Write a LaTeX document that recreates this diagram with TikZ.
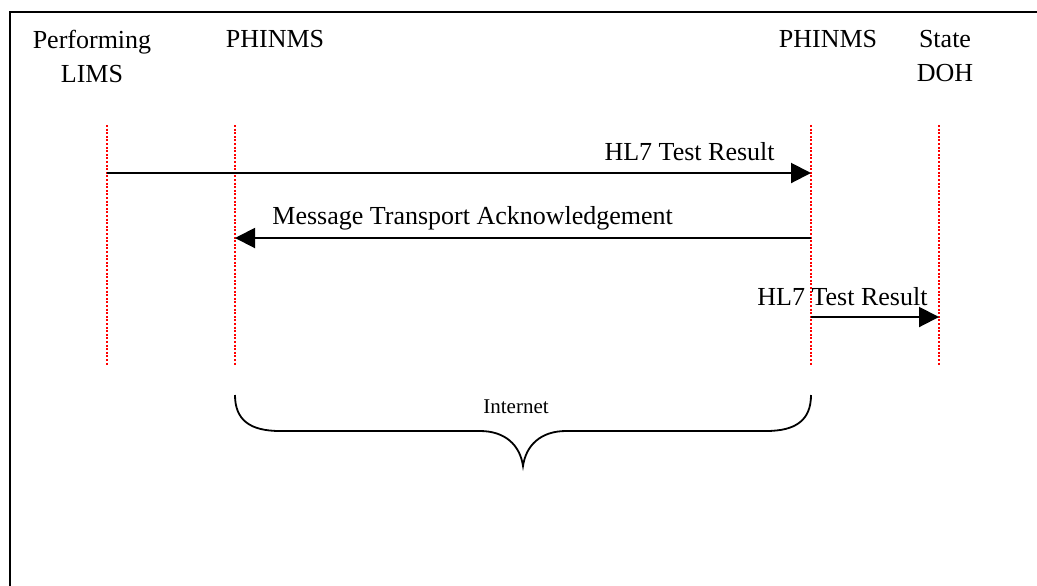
\documentclass[tikz,border=0pt]{standalone}
\usepackage{fontspec}
\setmainfont{Liberation Serif}
\usetikzlibrary{arrows.meta}
\tikzset{
  lifeline/.style={red, line width=0.6pt, dash pattern=on 1pt off 0.8pt},
  msg/.style={line width=1pt, -{Triangle[length=10pt,width=10pt]}},
  actor/.style={align=center, inner sep=0pt, font=\fontsize{13}{17}\selectfont},
  msglabel/.style={inner sep=0pt, font=\fontsize{13}{15}\selectfont},
}
\begin{document}
\begin{tikzpicture}[x=0.5pt,y=-0.5pt]
\useasboundingbox (0,0) rectangle (1037,585);
% frame
\draw[line width=1.4pt] (1040,12) -- (10,12) -- (10,590);
% actors
\node[actor, anchor=north] (lims) at (92,30) {Performing\\LIMS};
\node[actor, anchor=north] (phinA) at (275,30) {PHINMS};
\node[actor, anchor=north] (phinB) at (828,30) {PHINMS};
\node[actor, anchor=north] (doh) at (945,30) {State\\DOH};
% lifelines
\foreach \n/\x in {lims/107, phinA/235, phinB/811, doh/939} {
  \coordinate (\n T) at (\x,125);
  \coordinate (\n B) at (\x,365);
  \draw[lifeline] (\n T) -- (\n B);
}
% message levels
\coordinate (y1) at (0,173);
\coordinate (y2) at (0,238);
\coordinate (y3) at (0,317);
\draw[msg] (limsT |- y1) -- (phinBT |- y1);
\draw[msg] (phinBT |- y2) -- (phinAT |- y2);
\draw[msg] (phinBT |- y3) -- (dohT |- y3);
\node[msglabel, anchor=base east] (res1) at (775,160) {HL7 Test Result};
\node[msglabel, anchor=base west] (ack) at (272,224) {Message Transport Acknowledgement};
\node[msglabel, anchor=base west] (res2) at (757,305) {HL7 Test Result};
% brace
\draw[line width=0.9pt] (phinAB |- 0,395) .. controls (235,420) and (250,431) .. (280,431) -- (480,431)
  .. controls (505,431) and (520,445) .. (523,466)
  .. controls (526,445) and (541,431) .. (566,431) -- (766,431)
  .. controls (796,431) and (811,420) .. (phinBB |- 0,395);
\node[font=\fontsize{10.5}{12}\selectfont, anchor=base] (net) at (516,413) {Internet};
\end{tikzpicture}
\end{document}
